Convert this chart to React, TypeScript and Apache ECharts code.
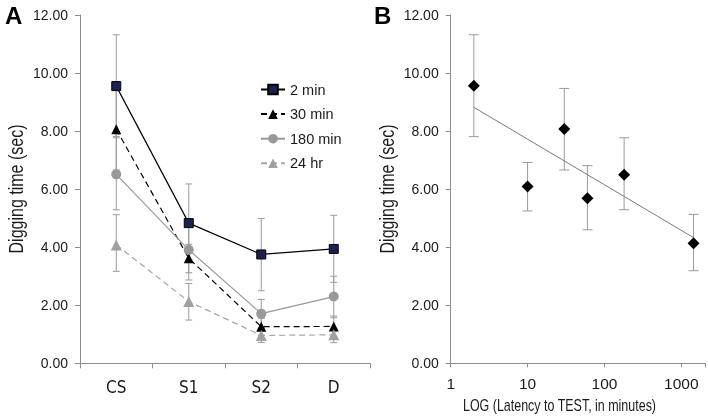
import React, { useEffect, useRef } from 'react';
import * as echarts from 'echarts';

// ---- Panel A data ----
const categories = ['CS', 'S1', 'S2', 'D'];
const seriesNames = ['2 min', '30 min', '180 min', '24 hr'];
const min2 = [9.55, 4.83, 3.75, 3.94];
const min30 = [8.06, 3.62, 1.26, 1.27];
const min180 = [6.51, 3.91, 1.71, 2.3];
const hr24 = [4.08, 2.13, 0.96, 0.98];
const min2Low = [7.81, 3.47, 2.5, 2.79];
const min2High = [11.32, 6.18, 4.99, 5.1];
const min30Low = [6.66, 3.12, 0.97, 0.9];
const min30High = [9.47, 4.1, 1.55, 1.63];
const min180Low = [5.29, 2.87, 1.22, 1.57];
const min180High = [7.77, 4.95, 2.2, 3.0];
const hr24Low = [3.17, 1.49, 0.72, 0.71];
const hr24High = [5.12, 2.75, 1.2, 1.2];

// ---- Panel B data ----
const latency = [2, 10, 30, 60, 180, 1440];
const digging = [9.56, 6.09, 8.07, 5.69, 6.5, 4.14];
const diggingLow = [7.81, 5.25, 6.66, 4.6, 5.29, 3.19];
const diggingHigh = [11.32, 6.92, 9.47, 6.81, 7.77, 5.13];
const trendX = [2, 1440];
const trendY = [8.82, 4.33];

const yTitle = 'Digging time (sec)';
const xTitleB = 'LOG (Latency to TEST, in minutes)';

const CONDENSED = "'DejaVu Sans Condensed', 'Liberation Sans', sans-serif";
const SANS = "'Liberation Sans', Arial, sans-serif";
const AXIS_COLOR = '#8c8c8c';
const TEXT = '#1a1a1a';

function errorBarRender(cap: number, color: string) {
  return (params: any, api: any) => {
    const x = api.value(0);
    const lo = api.coord([x, api.value(1)]);
    const hi = api.coord([x, api.value(2)]);
    const st = { stroke: color, lineWidth: 1 };
    return {
      type: 'group',
      children: [
        { type: 'line', shape: { x1: lo[0], y1: lo[1], x2: hi[0], y2: hi[1] }, style: st },
        { type: 'line', shape: { x1: lo[0] - cap, y1: lo[1], x2: lo[0] + cap, y2: lo[1] }, style: st },
        { type: 'line', shape: { x1: hi[0] - cap, y1: hi[1], x2: hi[0] + cap, y2: hi[1] }, style: st },
      ],
    };
  };
}

function narrowText(text: string, x: number, y: number, size: number, rotate: boolean, scale: number) {
  return {
    type: 'text',
    x,
    y,
    rotation: rotate ? Math.PI / 2 : 0,
    scaleX: scale,
    style: {
      text,
      fontFamily: SANS,
      fontSize: size,
      fill: TEXT,
      textAlign: 'center',
      textVerticalAlign: 'middle',
    },
  };
}

export default function App() {
  const ref = useRef<HTMLDivElement>(null);
  useEffect(() => {
    const chart = echarts.init(ref.current!, null, { renderer: 'svg' });

    const lows = [min2Low, min30Low, min180Low, hr24Low];
    const highs = [min2High, min30High, min180High, hr24High];
    const errA: number[][] = [];
    lows.forEach((l, s) => l.forEach((v, i) => errA.push([i, v, highs[s][i]])));
    const errB = latency.map((x, i) => [x, diggingLow[i], diggingHigh[i]]);

    const valueAxis = (grid: number) => ({
      type: 'value',
      gridIndex: grid,
      min: 0,
      max: 12,
      interval: 2,
      axisLine: { show: true, lineStyle: { color: AXIS_COLOR } },
      axisTick: { show: true, length: 5, lineStyle: { color: AXIS_COLOR } },
      splitLine: { show: false },
      axisLabel: {
        formatter: (v: number) => v.toFixed(2),
        fontFamily: SANS,
        fontSize: 14,
        color: TEXT,
        margin: 12,
      },
    });

    const option: any = {
      animation: false,
      grid: [
        { left: 80, top: 15, width: 290, height: 348.3 },
        { left: 450.7, top: 15, width: 256.3, height: 348.3 },
      ],
      xAxis: [
        {
          type: 'category',
          gridIndex: 0,
          data: categories,
          boundaryGap: true,
          axisLine: { lineStyle: { color: AXIS_COLOR } },
          axisTick: { show: true, length: 5, lineStyle: { color: AXIS_COLOR } },
          axisLabel: { fontFamily: CONDENSED, fontSize: 17, color: TEXT, margin: 15 },
          splitLine: { show: false },
        },
        {
          type: 'log',
          logBase: 10,
          gridIndex: 1,
          min: 1,
          max: 2030,
          axisLine: { lineStyle: { color: AXIS_COLOR } },
          axisTick: { show: true, length: 4, lineStyle: { color: AXIS_COLOR } },
          minorTick: { show: false },
          splitLine: { show: false },
          axisLabel: {
            fontFamily: SANS,
            fontSize: 15.5,
            color: TEXT,
            margin: 12,
            formatter: (v: number) => {
              const e = Math.log10(v);
              return Math.abs(e - Math.round(e)) < 1e-6 ? String(Math.round(v)) : '';
            },
          },
        },
      ],
      yAxis: [valueAxis(0), valueAxis(1)],
      legend: {
        data: seriesNames,
        orient: 'vertical',
        left: 260,
        top: 82,
        padding: 0,
        itemWidth: 24,
        itemHeight: 12,
        itemGap: 9.6,
        textStyle: { fontFamily: SANS, fontSize: 14.5, lineHeight: 12, color: TEXT },
      },
      graphic: [
        { type: 'text', left: 5, top: 3, style: { text: 'A', fontFamily: SANS, fontWeight: 'bold', fontSize: 24, fill: '#000' } },
        { type: 'text', left: 374, top: 3, style: { text: 'B', fontFamily: SANS, fontWeight: 'bold', fontSize: 24, fill: '#000' } },
        narrowText(yTitle, 16.5, 189, 20, true, 0.8),
        narrowText(yTitle, 387.5, 189, 20, true, 0.8),
        narrowText(xTitleB, 559.5, 405, 16, false, 0.78),
      ],
      series: [
        {
          type: 'custom',
          xAxisIndex: 0,
          yAxisIndex: 0,
          renderItem: errorBarRender(3.5, '#9a9a9a'),
          data: errA,
          z: 1,
          silent: true,
        },
        {
          type: 'line',
          name: '2 min',
          xAxisIndex: 0,
          yAxisIndex: 0,
          data: min2,
          symbol: 'rect',
          symbolSize: 9,
          lineStyle: { color: '#000', width: 1.2 },
          itemStyle: { color: '#1b2150', borderColor: '#000', borderWidth: 1 },
          z: 5,
        },
        {
          type: 'line',
          name: '30 min',
          xAxisIndex: 0,
          yAxisIndex: 0,
          data: min30,
          symbol: 'triangle',
          symbolSize: 10,
          lineStyle: { color: '#000', width: 1.2, type: [6, 4] },
          itemStyle: { color: '#000' },
          z: 5,
        },
        {
          type: 'line',
          name: '180 min',
          xAxisIndex: 0,
          yAxisIndex: 0,
          data: min180,
          symbol: 'circle',
          symbolSize: 10,
          lineStyle: { color: '#999', width: 1.2 },
          itemStyle: { color: '#999' },
          z: 5,
        },
        {
          type: 'line',
          name: '24 hr',
          xAxisIndex: 0,
          yAxisIndex: 0,
          data: hr24,
          symbol: 'triangle',
          symbolSize: 11,
          lineStyle: { color: '#a6a6a6', width: 1.2, type: [6, 4] },
          itemStyle: { color: '#a0a0a0' },
          z: 5,
        },
        {
          type: 'custom',
          xAxisIndex: 1,
          yAxisIndex: 1,
          renderItem: errorBarRender(5, '#9a9a9a'),
          data: errB,
          z: 1,
          silent: true,
        },
        {
          type: 'line',
          xAxisIndex: 1,
          yAxisIndex: 1,
          data: trendX.map((x, i) => [x, trendY[i]]),
          symbol: 'none',
          lineStyle: { color: '#7a7a7a', width: 1 },
          z: 2,
          silent: true,
        },
        {
          type: 'scatter',
          xAxisIndex: 1,
          yAxisIndex: 1,
          data: latency.map((x, i) => [x, digging[i]]),
          symbol: 'diamond',
          symbolSize: 12,
          itemStyle: { color: '#000', opacity: 1 },
          z: 5,
        },
      ],
    };
    chart.setOption(option);
    return () => chart.dispose();
  }, []);
  return <div ref={ref} style={{ position: 'fixed', left: 0, top: 0, width: 708, height: 416 }} />;
}
